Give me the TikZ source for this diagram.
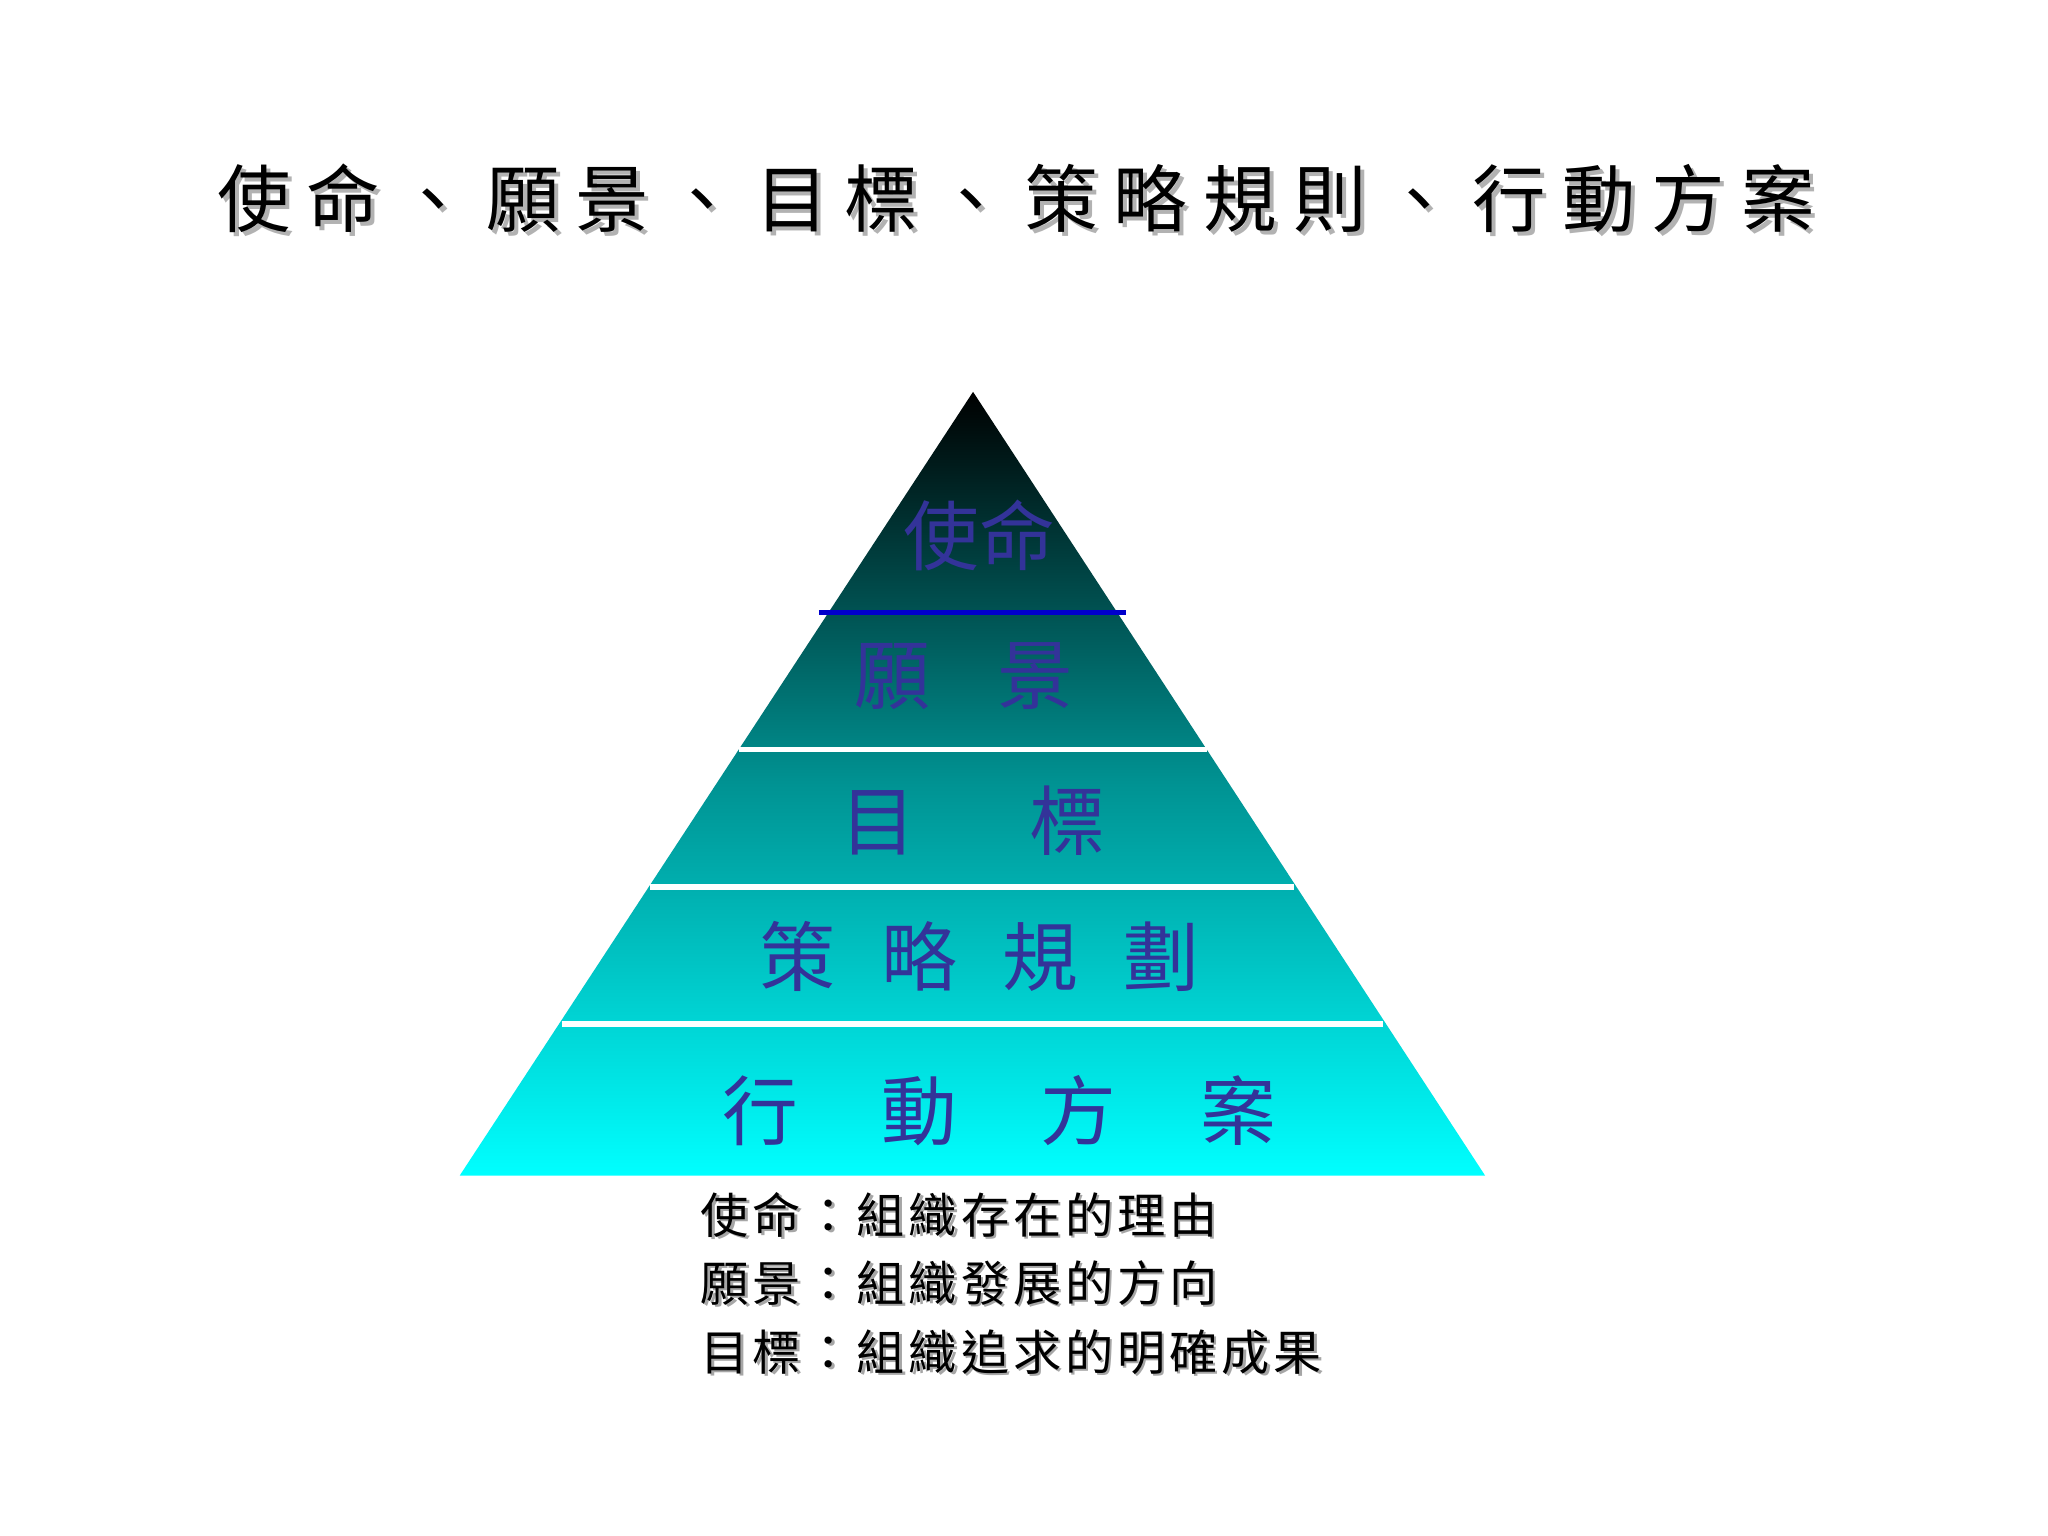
\documentclass[tikz,border=0pt]{standalone}
\usepackage{fontspec}
\newfontfamily\cjk{Noto Sans CJK TC}
\newfontfamily\cjkT[LetterSpace=22]{Noto Sans CJK TC}
\newfontfamily\cjkB[LetterSpace=8]{Noto Sans CJK TC}
\definecolor{lbl}{HTML}{333399}
\begin{document}
\begin{tikzpicture}[x=0.01cm,y=-0.01cm,
  shad/.style={text=gray!70,anchor=west},
  lab/.style={text=lbl,font=\cjk\fontsize{16.5pt}{18pt}\selectfont},
  sep/.style={white,line width=1.2pt}]
\useasboundingbox (0,0) rectangle (1568,1176);
\fill[white] (0,0) rectangle (1568,1176);
% title
\node[anchor=center,text=gray!60,font=\cjkT\fontsize{16pt}{18pt}\selectfont] at (781,155) {使命、願景、目標、策略規則、行動方案};
\node[anchor=center,font=\cjkT\fontsize{16pt}{18pt}\selectfont] (title) at (778,152) {使命、願景、目標、策略規則、行動方案};
% pyramid
\shade[top color=black, bottom color=cyan, middle color=teal!85!cyan] (745,300) coordinate (apex) -- (1137,900) coordinate (br) -- (352,900) coordinate (bl) -- cycle;
\draw[blue!80!black,line width=1.2pt] (627,469) -- (862,469);
\draw[sep] (566,574) -- (924,574);
\draw[sep] (498,679) -- (991,679);
\draw[sep] (430,784) -- (1059,784);
\node[lab] (l1) at (750,410) {使命};
\node[lab] (l2) at (738,518) {願\hspace{0.9em}景};
\node[lab] (l3) at (745,628) {目\hspace{1.5em}標};
\node[lab] (l4) at (750,732) {策\hspace{0.6em}略\hspace{0.6em}規\hspace{0.6em}劃};
\node[lab] (l5) at (765,850) {行\hspace{1.1em}動\hspace{1.1em}方\hspace{1.1em}案};
% notes
\foreach \t/\y in {使命：組織存在的理由/930,願景：組織發展的方向/982,目標：組織追求的明確成果/1035}{
  \node[shad,font=\cjkB\fontsize{10.5pt}{12pt}\selectfont] at (526,\y+2) {\t};
  \node[anchor=west,font=\cjkB\fontsize{10.5pt}{12pt}\selectfont] at (524,\y) {\t};
}
\end{tikzpicture}
\end{document}
